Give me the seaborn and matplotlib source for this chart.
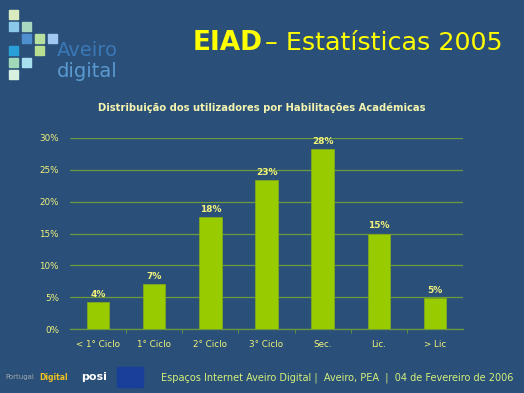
import matplotlib.pyplot as plt
import matplotlib.patches as mpatches
import seaborn as sns
import pandas as pd

categories = ['< 1° Ciclo', '1° Ciclo', '2° Ciclo', '3° Ciclo', 'Sec.', 'Lic.', '> Lic']
percent = [4.2, 7.1, 17.6, 23.4, 28.2, 15.0, 4.8]
value_labels = ['4%', '7%', '18%', '23%', '28%', '15%', '5%']
yticks = [0, 5, 10, 15, 20, 25, 30]

bg = '#2a5079'
bar_color = '#99cc00'
grid_color = '#6a9a3a'
label_color = '#f2f27a'

sns.set_style('white')
plt.rcParams['font.family'] = ['DejaVu Sans']

fig = plt.figure(figsize=(5.24, 3.93), dpi=100, facecolor=bg)
ax = fig.add_axes([0.1336, 0.1628, 0.75, 0.4861])
ax.set_facecolor(bg)

df = pd.DataFrame({'cat': categories, 'pct': percent})
sns.barplot(data=df, x='cat', y='pct', color=bar_color, width=0.4,
            saturation=1, ax=ax, zorder=3)
for p in ax.patches:
    p.set_edgecolor('#7fa81a')
    p.set_linewidth(0.6)

for i, (v, lab) in enumerate(zip(percent, value_labels)):
    ax.text(i, v + 0.5, lab, ha='center', va='bottom', color=label_color,
            fontsize=6.5, fontweight='bold')

ax.set_ylim(0, 30)
ax.set_xlim(-0.5, len(categories) - 0.5)
ax.set_yticks(yticks)
ax.set_yticklabels([f'{t}%' for t in yticks])
ax.yaxis.grid(True, color=grid_color, linewidth=0.9, zorder=0)
ax.set_axisbelow(True)
ax.set_xlabel('')
ax.set_ylabel('')
for s in ['top', 'right', 'left']:
    ax.spines[s].set_visible(False)
ax.spines['bottom'].set_color(grid_color)
ax.spines['bottom'].set_linewidth(0.9)
ax.set_xticks([x + 0.5 for x in range(len(categories) - 1)], minor=True)
ax.tick_params(axis='x', which='minor', length=3, color=grid_color, bottom=True)
ax.tick_params(axis='x', which='major', length=0, pad=8, labelsize=6.3, labelcolor=label_color)
ax.tick_params(axis='y', length=0, pad=8, labelsize=6.3, labelcolor=label_color)

# chart title
fig.text(0.5, 0.725, 'Distribuição dos utilizadores por Habilitações Académicas',
         ha='center', va='center', color='#f4f4b0', fontsize=7.2, fontweight='bold')

# slide title
fig.text(0.368, 0.89, 'EIAD', ha='left', va='center', color='#ffff00',
         fontsize=19, fontweight='bold')
fig.text(0.505, 0.89, '– Estatísticas 2005', ha='left', va='center', color='#ffff00',
         fontsize=18.3)

# logo squares top-left
squares = [(9, 10, '#d8ecc0'), (9, 22, '#8cc8ea'), (22, 22, '#a8d8c0'),
           (22, 34, '#4f8fd0'), (35, 34, '#b8e0a0'), (48, 34, '#a0c8f0'),
           (9, 46, '#2aa0d8'), (35, 46, '#b8e090'), (9, 58, '#a0d8b8'),
           (22, 58, '#a8e0f0'), (9, 70, '#d8f0e0')]
for sx, sy, c in squares:
    fig.patches.append(mpatches.Rectangle((sx / 524, 1 - (sy + 9) / 393), 9 / 524, 9 / 393,
                                          transform=fig.transFigure, color=c))
fig.text(0.108, 0.872, 'Aveiro', ha='left', va='center', color='#3a78b8', fontsize=14)
fig.text(0.108, 0.818, 'digital', ha='left', va='center', color='#5a9ad0', fontsize=14)

# footer
fig.text(0.307, 0.04, 'Espaços Internet Aveiro Digital |  Aveiro, PEA  |  04 de Fevereiro de 2006',
         ha='left', va='center', color='#d4f07a', fontsize=7.05)
fig.text(0.01, 0.04, 'Portugal', ha='left', va='center', color='#a0a8b0', fontsize=5)
fig.text(0.075, 0.04, 'Digital', ha='left', va='center', color='#f0c020', fontsize=5.5,
         fontweight='bold')
fig.text(0.155, 0.04, 'posi', ha='left', va='center', color='#ffffff', fontsize=8,
         fontweight='bold')
fig.patches.append(mpatches.Rectangle((0.223, 0.016), 0.05, 0.05,
                                      transform=fig.transFigure, color='#1a3f9a'))

fig.savefig('out.png', dpi=100, facecolor=bg)
